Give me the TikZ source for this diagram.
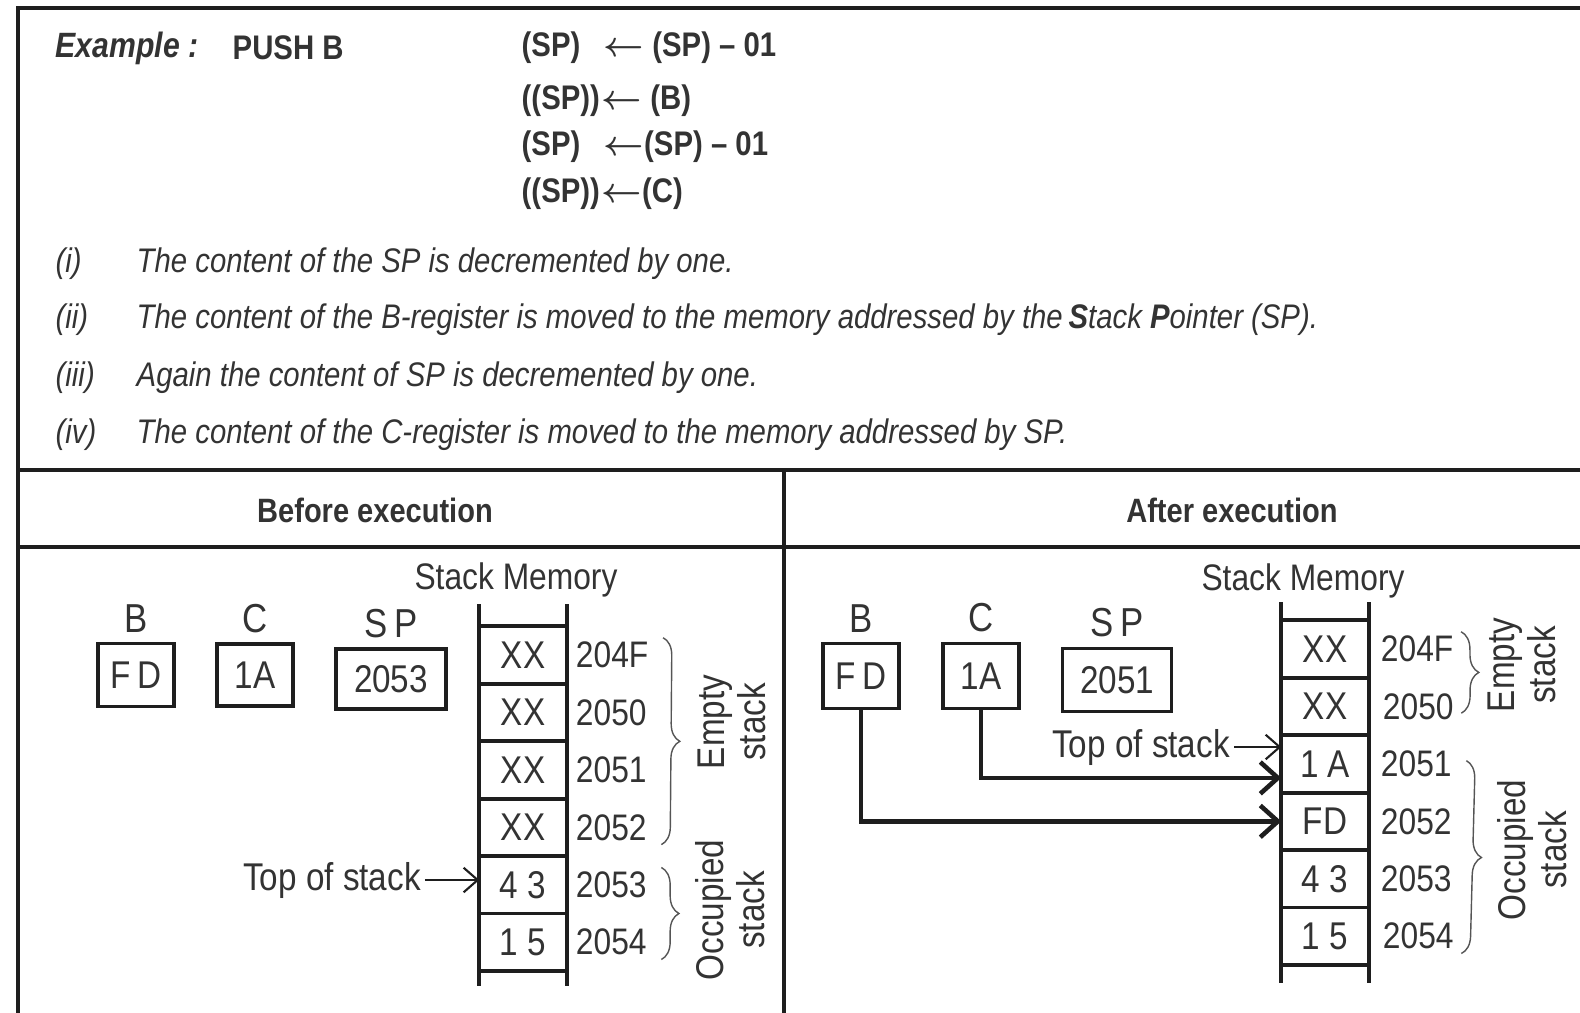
\documentclass[tikz,border=0pt]{standalone}
\usepackage{fontspec}
\setmainfont{Liberation Sans}[FakeStretch=0.86]
\usepackage{tikz}
\usetikzlibrary{arrows.meta,positioning,decorations.pathreplacing}
\definecolor{ink}{HTML}{1E1E1E}
\definecolor{txt}{HTML}{333333}
\definecolor{bracegray}{HTML}{555555}
\newcommand{\getsarrow}{{\boldmath$\leftarrow$}}

\begin{document}
\begin{tikzpicture}[
    x=0.01cm, y=-0.01cm,
    frame/.style={line width=1.1pt, draw=ink},
    reg/.style={rectangle, draw=ink, line width=1.1pt, inner sep=0pt, font=\fontsize{11}{13}\selectfont, text=txt},
    regname/.style={font=\fontsize{11.5}{13}\selectfont, text=txt, inner sep=1pt},
    cell/.style={rectangle, minimum width=0.86cm, minimum height=0.56cm, inner sep=0pt, font=\fontsize{11}{13}\selectfont, text=txt},
    addr/.style={font=\fontsize{10.5}{12}\selectfont, text=txt, inner sep=1pt},
    wall/.style={line width=1.1pt, draw=ink},
    brc/.style={decorate, decoration={brace, amplitude=5pt}, thin, draw=bracegray},
    side/.style={rotate=90, align=center, font=\fontsize{11}{11.5}\selectfont, text=txt},
    tos/.style={font=\fontsize{11}{13}\selectfont, text=txt, inner sep=1pt},
    pointer/.style={-{Straight Barb[length=4pt,width=7pt]}, line width=0.6pt, draw=ink},
    feed/.style={-{Straight Barb[length=5pt,width=9pt]}, line width=1.3pt, draw=ink},
    hdr/.style={font=\fontsize{9.6}{11}\selectfont\bfseries, text=txt},
    eq/.style={anchor=west, font=\fontsize{9.7}{12}\selectfont\bfseries, text=txt, inner sep=0pt},
    item/.style={anchor=west, font=\fontsize{9.7}{11}\selectfont\itshape, text=txt, inner sep=0pt},
]
\useasboundingbox (0,0) rectangle (1580,1012);

% Frame and table rules
\draw[frame] (18,8) rectangle (1600,1030);
\draw[frame] (18,470) -- (1600,470);
\draw[frame] (18,547) -- (1600,547);
\draw[frame] (784,470) -- (784,1030);

% Instruction and micro-operations
\node[anchor=west, inner sep=0pt, font=\fontsize{10}{12}\selectfont\bfseries\itshape, text=txt] (exlabel) at (55,48) {Example :};
\node[eq] (pushb) at (232,48) {PUSH B};
\node[eq] (e1) at (521,48) {\makebox[0.82cm][l]{(SP)}\getsarrow\ (SP) – 01};
\node[eq] (e2) at (521,101) {\makebox[0.8cm][l]{((SP))}\getsarrow\ (B)};
\node[eq] (e3) at (521,147) {\makebox[0.82cm][l]{(SP)}\getsarrow(SP) – 01};
\node[eq] (e4) at (521,194) {\makebox[0.8cm][l]{((SP))}\getsarrow(C)};

% Steps
\node[item] (n1) at (55,264) {(i)};
\node[item] (t1) at (136,264) {The content of the SP is decremented by one.};
\node[item] (n2) at (55,320) {(ii)};
\node[item] (t2) at (136,320) {The content of the B-register is moved to the memory addressed by the\,{\bfseries S}tack {\bfseries P}ointer (SP).};
\node[item] (n3) at (55,378) {(iii)};
\node[item] (t3) at (136,378) {Again the content of SP is decremented by one.};
\node[item] (n4) at (55,435) {(iv)};
\node[item] (t4) at (136,435) {The content of the C-register is moved to the memory addressed by SP.};

% Headers
\node[hdr] (hbefore) at (375,510) {Before execution};
\node[hdr] (hafter) at (1232,510) {After execution};

% Before: registers
\node[reg, minimum width=0.76cm, minimum height=0.63cm] (bb) at (136,675) {F\,D};
\node[reg, minimum width=0.76cm, minimum height=0.62cm] (bc) at (255,675) {1A};
\node[reg, minimum width=1.10cm, minimum height=0.60cm] (bsp) at (391,679) {2053};
\node[regname, above=0.05cm of bb] (bbname) {B};
\node[regname, above=0.05cm of bc] (bcname) {C};
\node[regname, above=0.05cm of bsp] (bspname) {S\,P};

% Before: stack memory
\node[addr] (bmem) at (516,580) {Stack Memory};
\node[cell] (b1) at (523,655) {XX};
\node[cell, below=0pt of b1] (b2) {XX};
\node[cell, below=0pt of b2] (b3) {XX};
\node[cell, below=0pt of b3] (b4) {XX};
\node[cell, below=0pt of b4] (b5) {4 3};
\node[cell, below=0pt of b5] (b6) {1 5};
\draw[wall] ([yshift=0.22cm]b1.north west) -- ([yshift=-0.15cm]b6.south west);
\draw[wall] ([yshift=0.22cm]b1.north east) -- ([yshift=-0.15cm]b6.south east);
\foreach \c in {b1,b2,b3,b4,b5,b6} \draw[wall] (\c.north west) -- (\c.north east);
\draw[wall] (b6.south west) -- (b6.south east);

\node[addr, right=0.05cm of b1] (ba1) {204F};
\node[addr, right=0.05cm of b2] (ba2) {2050};
\node[addr, right=0.05cm of b3] (ba3) {2051};
\node[addr, right=0.05cm of b4] (ba4) {2052};
\node[addr, right=0.05cm of b5] (ba5) {2053};
\node[addr, right=0.05cm of b6] (ba6) {2054};
\draw[brc] ([xshift=3pt]ba1.north east) -- ([xshift=3pt]ba4.south east);
\draw[brc] ([xshift=3pt]ba5.north east) -- ([xshift=3pt]ba6.south east);
\node[side] (bempty) at (732,722) {Empty\\stack};
\node[side] (boccupied) at (730,910) {Occupied\\stack};

\node[tos] (btop) at (332,880) {Top of stack};
\draw[pointer] (btop.east) -- (btop.east -| b5.west);

% After: registers
\node[reg, minimum width=0.76cm, minimum height=0.65cm] (ab) at (861,676) {F\,D};
\node[reg, minimum width=0.76cm, minimum height=0.65cm] (ac) at (981,676) {1A};
\node[reg, minimum width=1.09cm, minimum height=0.63cm] (asp) at (1117,680) {2051};
\node[regname, above=0.05cm of ab] (abname) {B};
\node[regname, above=0.05cm of ac] (acname) {C};
\node[regname, above=0.05cm of asp] (aspname) {S\,P};

% After: stack memory
\node[addr] (amem) at (1303,581) {Stack Memory};
\node[cell] (a1) at (1325,649) {XX};
\node[cell, below=0pt of a1] (a2) {XX};
\node[cell, below=0pt of a2] (a3) {1 A};
\node[cell, below=0pt of a3] (a4) {FD};
\node[cell, below=0pt of a4] (a5) {4 3};
\node[cell, below=0pt of a5] (a6) {1 5};
\draw[wall] ([yshift=0.18cm]a1.north west) -- ([yshift=-0.18cm]a6.south west);
\draw[wall] ([yshift=0.18cm]a1.north east) -- ([yshift=-0.18cm]a6.south east);
\foreach \c in {a1,a2,a3,a4,a5,a6} \draw[wall] (\c.north west) -- (\c.north east);
\draw[wall] (a6.south west) -- (a6.south east);

\node[addr, right=0.08cm of a1] (aa1) {204F};
\node[addr, right=0.1cm of a2] (aa2) {2050};
\node[addr, right=0.08cm of a3] (aa3) {2051};
\node[addr, right=0.08cm of a4] (aa4) {2052};
\node[addr, right=0.08cm of a5] (aa5) {2053};
\node[addr, right=0.1cm of a6] (aa6) {2054};
\draw[brc] ([xshift=1pt]aa1.north east) -- ([xshift=1pt,yshift=3pt]aa2.south east);
\draw[brc] ([xshift=3pt,yshift=-4pt]aa3.north east) -- ([xshift=1pt]aa6.south east);
\node[side] (aempty) at (1522,665) {Empty\\stack};
\node[side] (aoccupied) at (1532,850) {Occupied\\stack};

\node[tos] (atop) at (1141,747) {Top of stack};
\draw[pointer] (atop.east) -- (atop.east -| a3.west);

% Register contents pushed
\draw[feed] (ac.south) |- ([yshift=-0.14cm]a3.west);
\draw[feed] (ab.south) |- (a4.west);

\end{tikzpicture}
\end{document}
